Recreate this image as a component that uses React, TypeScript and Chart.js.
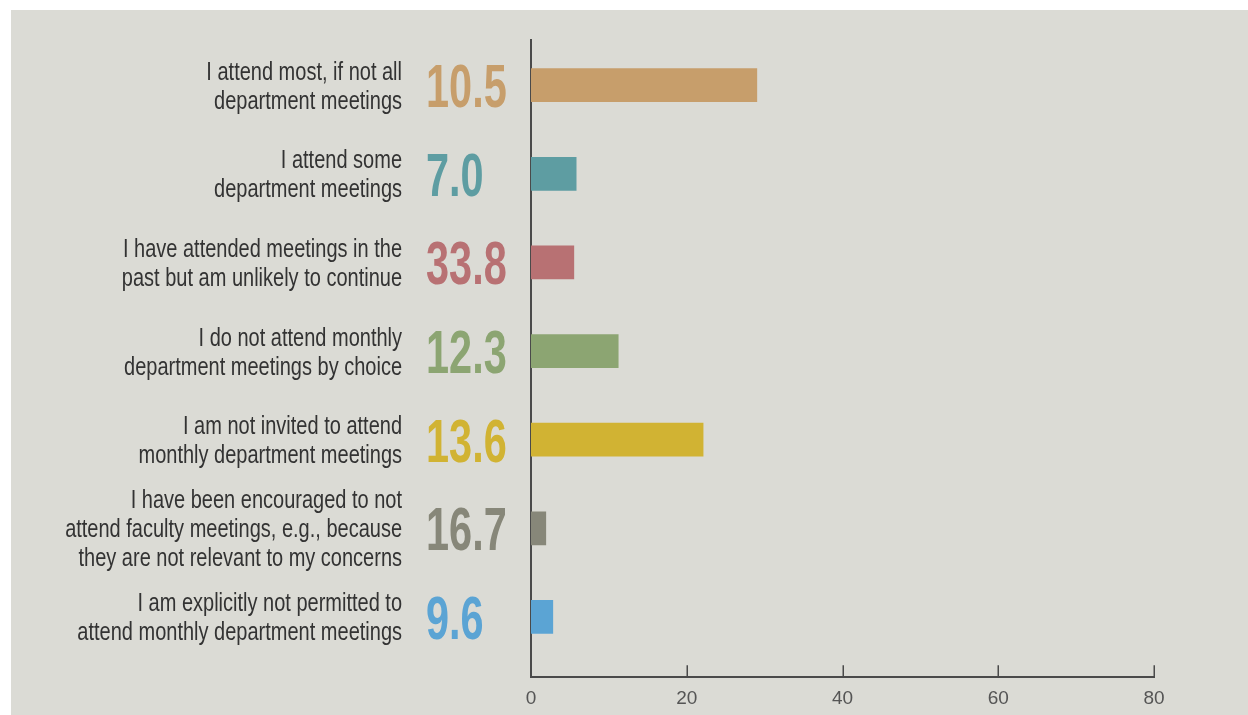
import React, { useEffect, useRef } from "react";
import { Chart, registerables } from "chart.js";

Chart.register(...registerables);

const categories: string[][] = [
  ["I attend most, if not all", "department meetings"],
  ["I attend some", "department meetings"],
  ["I have attended meetings in the", "past but am unlikely to continue"],
  ["I do not attend monthly", "department meetings by choice"],
  ["I am not invited to attend", "monthly department meetings"],
  ["I have been encouraged to not", "attend faculty meetings, e.g., because", "they are not relevant to my concerns"],
  ["I am explicitly not permitted to", "attend monthly department meetings"],
];
const percentLabels = ["10.5", "7.0", "33.8", "12.3", "13.6", "16.7", "9.6"];
const barValues = [29.0, 5.8, 5.5, 11.2, 22.1, 1.9, 2.8];
const barColors = ["#c79e6b", "#5e9da2", "#b87173", "#8ca572", "#d1b333", "#878779", "#5ba4d4"];
const xMin = 0;
const xMax = 80;
const xStep = 20;

const AXIS_COLOR = "#4a4a4a";
const LABEL_FONT = '"Liberation Sans", Arial, sans-serif';

const labelsPlugin = {
  id: "sideLabels",
  afterDraw(chart: any) {
    const { ctx, chartArea, scales } = chart;
    const yS = scales.y;
    const xS = scales.x;
    ctx.save();
    // tick marks pointing up
    ctx.strokeStyle = AXIS_COLOR;
    ctx.lineWidth = 1.5;
    xS.ticks.forEach((t: any) => {
      if (t.value <= xMin) return;
      const px = Math.round(xS.getPixelForValue(t.value)) + 0.25;
      ctx.beginPath();
      ctx.moveTo(px, chartArea.bottom - 12);
      ctx.lineTo(px, chartArea.bottom);
      ctx.stroke();
    });
    categories.forEach((lines, i) => {
      const cy = yS.getPixelForValue(i);
      // category text (condensed)
      ctx.save();
      ctx.fillStyle = "#333333";
      ctx.font = `25px ${LABEL_FONT}`;
      ctx.textAlign = "right";
      ctx.textBaseline = "alphabetic";
      ctx.translate(chartArea.left - 129, 0);
      ctx.scale(0.8, 1);
      const lh = 29;
      lines.forEach((ln, k) => {
        const yy = cy + (k - (lines.length - 1) / 2) * lh + 9;
        ctx.fillText(ln, 0, yy);
      });
      ctx.restore();
      // big number
      ctx.save();
      ctx.fillStyle = barColors[i];
      ctx.font = `bold 61px ${LABEL_FONT}`;
      ctx.textAlign = "left";
      ctx.textBaseline = "alphabetic";
      ctx.translate(chartArea.left - 105, cy + 22);
      ctx.scale(0.68, 1);
      ctx.fillText(percentLabels[i], 0, 0);
      ctx.restore();
    });
    ctx.restore();
  },
};

export default function App() {
  const ref = useRef<HTMLCanvasElement | null>(null);
  useEffect(() => {
    if (!ref.current) return;
    const chart = new Chart(ref.current, {
      type: "bar",
      data: {
        datasets: [
          {
            data: barValues.map((v, i) => ({ x: v, y: i })) as any,
            backgroundColor: barColors,
            barThickness: 33,
            borderWidth: 0,
          },
        ],
      },
      options: {
        indexAxis: "y",
        animation: false,
        responsive: false,
        maintainAspectRatio: false,
        layout: { padding: { left: 520, right: 94, top: 30, bottom: 0 } },
        plugins: { legend: { display: false }, tooltip: { enabled: false } },
        scales: {
          x: {
            type: "linear",
            min: xMin,
            max: xMax,
            ticks: {
              stepSize: xStep,
              color: "#555555",
              font: { family: LABEL_FONT, size: 19 },
              padding: 10,
            },
            grid: { display: false, drawTicks: false, tickLength: 0 },
            border: { display: true, color: AXIS_COLOR, width: 2 },
          },
          y: {
            type: "linear",
            reverse: true,
            offset: false,
            min: -0.51,
            max: 6.68,
            ticks: { display: false },
            grid: { display: false, drawTicks: false, tickLength: 0 },
            border: { display: true, color: AXIS_COLOR, width: 2 },
          },
        },
      },
      plugins: [labelsPlugin],
    });
    return () => chart.destroy();
  }, []);
  return (
    <div
      style={{
        position: "absolute",
        left: 11,
        top: 10,
        width: 1237,
        height: 705,
        overflow: "hidden",
        background: "#dbdbd5",
      }}
    >
      <canvas ref={ref} width={1237} height={710} style={{ display: "block" }} />
    </div>
  );
}
